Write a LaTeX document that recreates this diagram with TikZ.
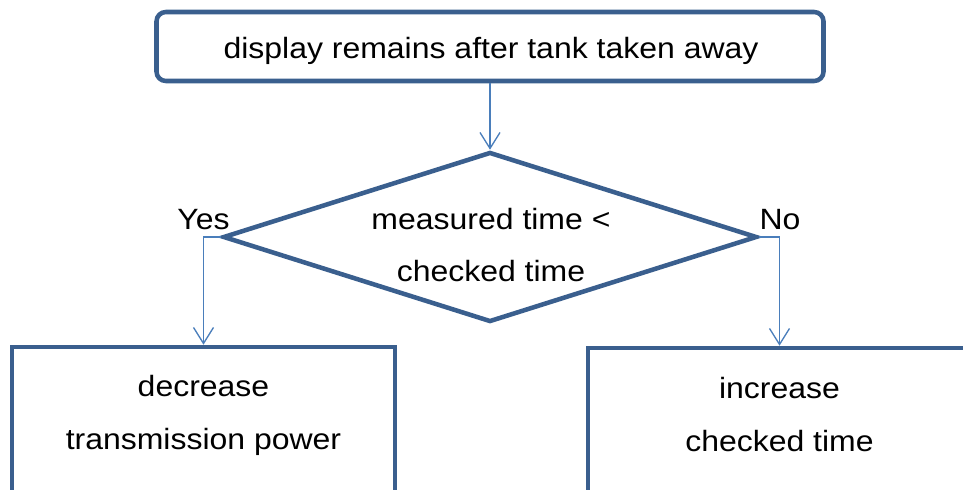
\documentclass[tikz,border=0pt]{standalone}
\usepackage{fontspec}
\setmainfont{Liberation Sans}[FakeStretch=1.09]
\usetikzlibrary{shapes.geometric,arrows.meta}
\definecolor{bd}{HTML}{3A5F8E}
\definecolor{ar}{HTML}{4A7EBB}
\begin{document}
\begin{tikzpicture}[x=0.75pt,y=-0.75pt,
  shp/.style={draw=bd,line width=3.4pt,fill=white,inner sep=0pt},
  txt/.style={anchor=base,inner sep=0pt,font=\fontsize{22}{26}\selectfont,text=black},
  arr/.style={draw=ar,line width=1pt,-{Straight Barb[length=12pt,width=15pt]}}]
\useasboundingbox (0,0) rectangle (963,489);
\clip (0,0) rectangle (963,489);
% shapes
\node[shp,rounded corners=7pt,minimum width=500.25pt,minimum height=51.75pt] (top) at (490,46.5) {};
\node[shp,diamond,minimum width=400.5pt,minimum height=127.5pt] (dia) at (490,237) {};
\node[shp,minimum width=287.25pt,minimum height=150pt,anchor=north] (lbox) at (203.5,344.7) {};
\node[shp,minimum width=287.25pt,minimum height=150pt,anchor=north] (rbox) at (779.5,345.7) {};
% texts
\node[txt] (t1) at (491,58) {display remains after tank taken away};
\node[txt] (d1) at (491,229) {measured time <};
\node[txt] (d2) at (491,281) {checked time};
\node[txt] (yes) at (203.5,229) {Yes};
\node[txt] (no) at (780,229) {No};
\node[txt] (l1) at (203.5,396) {decrease};
\node[txt] (l2) at (203.5,449) {transmission power};
\node[txt] (r1) at (779.5,398) {increase};
\node[txt] (r2) at (779.5,451) {checked time};
% connectors
\draw[arr] (top.south) -- (dia.north);
\draw[arr] (dia.west) -| (lbox.north);
\draw[arr] (dia.east) -| (rbox.north);
\end{tikzpicture}
\end{document}
